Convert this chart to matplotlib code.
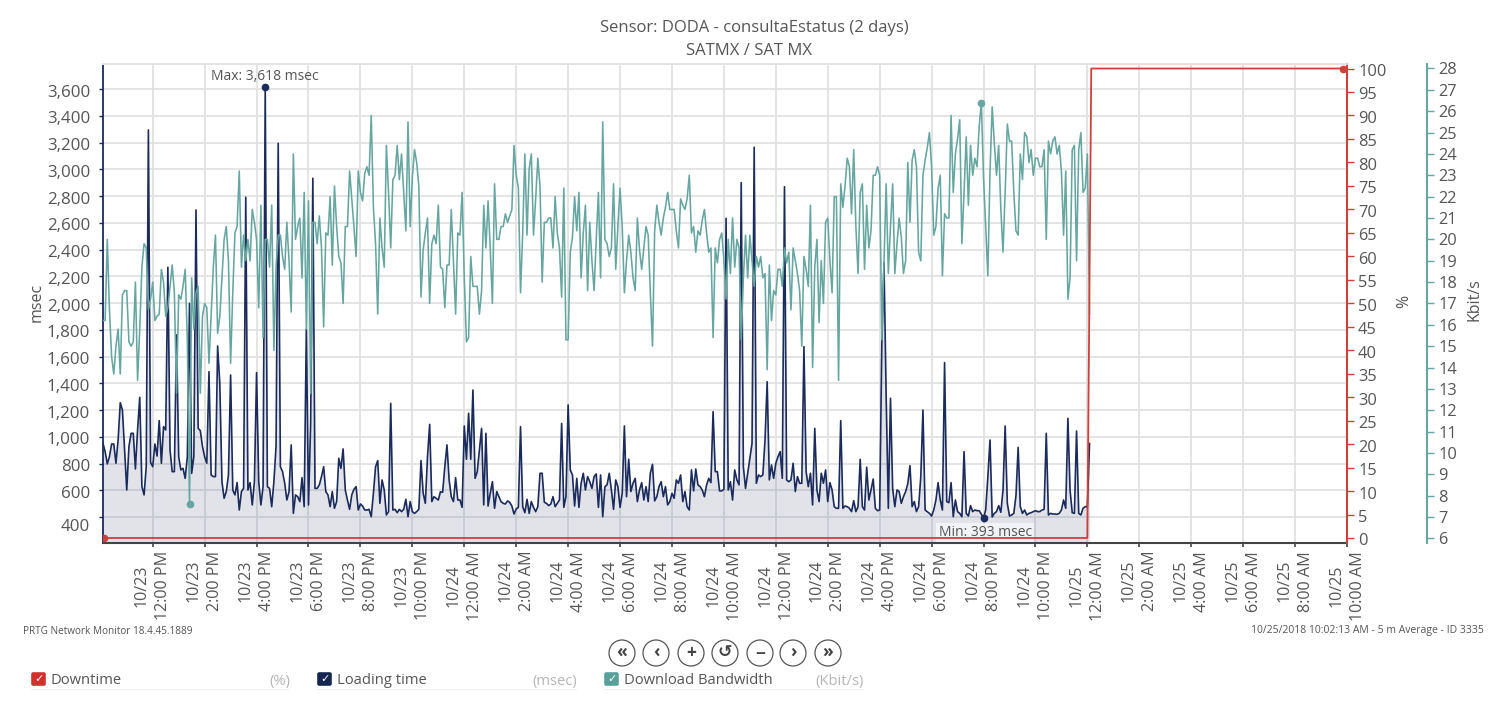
import matplotlib
matplotlib.use('agg')
import matplotlib.pyplot as plt
from matplotlib.patches import Circle, Rectangle, FancyBboxPatch
from matplotlib.transforms import ScaledTranslation
import numpy as np

plt.rcParams['font.family'] = ['Open Sans', 'DejaVu Sans']

TEXT_COLOR = "#555555"
GRID_COLOR = "#e2e2e2"
RED = "#d0403a"
NAVY = "#1a2b5c"
TEAL = "#66a6a1"

# 5 minute averages, 10/23 10:05 AM onwards. one row is about two hours
LOADING_MSEC = [
    951, 889, 797, 851, 946, 946, 802, 976, 1255, 1200, 901, 602, 926, 1026, 1026, 759, 1051, 1295, 627, 565, 776, 3295, 809, 776,
    946, 856, 1121, 802, 1076, 1051, 2268, 901, 739, 739, 1762, 851, 752, 764, 689, 851, 1998, 727, 851, 2697, 1063, 1046, 926, 851,
    802, 1487, 714, 702, 702, 1679, 1400, 664, 540, 590, 714, 1462, 602, 565, 657, 452, 590, 614, 2792, 602, 657, 490, 664, 1480,
    664, 490, 627, 3618, 627, 614, 477, 664, 926, 3195, 776, 739, 652, 527, 590, 939, 427, 565, 552, 515, 694, 477, 1804, 490,
    1100, 2934, 614, 614, 640, 702, 776, 590, 565, 477, 590, 465, 515, 839, 764, 909, 602, 527, 457, 565, 607, 627, 452, 497,
    482, 452, 452, 457, 402, 577, 776, 822, 502, 677, 602, 415, 440, 1250, 452, 457, 432, 457, 440, 457, 532, 402, 515, 440,
    427, 440, 457, 822, 577, 502, 851, 1093, 515, 552, 540, 527, 589, 585, 776, 939, 677, 552, 515, 694, 527, 527, 472, 1081,
    832, 1176, 832, 1350, 689, 739, 901, 1063, 490, 1026, 482, 577, 664, 465, 590, 552, 515, 502, 497, 520, 510, 482, 422, 460,
    472, 1076, 477, 432, 532, 427, 515, 472, 440, 477, 727, 727, 510, 502, 485, 497, 552, 477, 502, 527, 1100, 472, 552, 1238,
    752, 714, 482, 689, 472, 652, 727, 602, 702, 664, 614, 702, 722, 472, 714, 402, 627, 640, 727, 602, 457, 677, 627, 472,
    577, 1081, 552, 832, 590, 652, 689, 515, 602, 657, 527, 627, 515, 727, 794, 520, 552, 627, 664, 552, 627, 490, 515, 577,
    540, 677, 652, 714, 515, 590, 477, 452, 752, 595, 759, 640, 627, 602, 552, 640, 689, 657, 1188, 739, 739, 595, 595, 607,
    2634, 602, 664, 527, 752, 677, 640, 2901, 776, 614, 727, 839, 951, 3166, 652, 714, 702, 714, 976, 1412, 677, 789, 689, 802, 851,
    889, 689, 2871, 677, 664, 677, 802, 590, 702, 652, 652, 1674, 739, 627, 727, 490, 1063, 602, 515, 727, 652, 752, 515, 657,
    602, 477, 465, 465, 1121, 465, 482, 477, 465, 440, 522, 440, 477, 831, 477, 452, 772, 527, 602, 684, 465, 447, 452, 1700,
    2303, 1300, 465, 1288, 614, 477, 602, 590, 502, 552, 590, 650, 784, 477, 515, 440, 477, 700, 1200, 452, 440, 427, 407, 452,
    527, 657, 527, 452, 1555, 515, 507, 657, 402, 527, 440, 427, 402, 889, 427, 407, 485, 440, 452, 447, 447, 420, 393, 452,
    700, 976, 400, 427, 440, 485, 435, 600, 1081, 502, 407, 415, 427, 560, 921, 477, 427, 452, 415, 427, 432, 440, 447, 440,
    440, 452, 457, 1026, 415, 427, 422, 422, 420, 427, 452, 527, 465, 1138, 600, 432, 427, 1043, 427, 415, 465, 477, 477, 950,
]

BANDWIDTH_KBIT = [
    16.2, 16.2, 20.0, 16.7, 14.5, 13.7, 15.0, 15.8, 13.7, 17.4, 17.6, 17.6, 15.2, 15.0, 15.2, 18.0, 13.4, 15.8, 18.7, 19.8, 19.6, 16.7, 17.2, 18.0,
    16.2, 16.4, 16.5, 18.6, 18.0, 16.4, 16.8, 17.8, 18.8, 17.5, 12.8, 17.4, 17.2, 17.8, 18.6, 15.3, 7.6, 18.2, 15.8, 17.5, 17.8, 12.8, 16.4, 17.0,
    16.8, 14.2, 16.4, 18.7, 20.2, 15.6, 16.4, 18.2, 20.0, 20.6, 19.0, 14.2, 17.5, 20.3, 20.6, 23.2, 18.7, 20.2, 19.0, 20.0, 19.0, 21.4, 20.8, 20.0,
    16.8, 21.6, 15.4, 20.0, 20.0, 18.7, 21.6, 14.8, 18.7, 20.2, 20.2, 19.2, 18.6, 20.8, 19.0, 16.6, 24.0, 20.0, 20.6, 21.0, 18.2, 22.2, 15.8, 21.8,
    12.8, 20.8, 20.8, 19.8, 21.1, 19.6, 15.9, 20.3, 20.2, 22.0, 18.8, 22.5, 20.6, 19.2, 18.9, 17.0, 20.6, 20.6, 23.2, 21.9, 20.6, 19.2, 23.2, 22.2,
    21.8, 23.1, 23.4, 23.0, 25.8, 21.5, 19.8, 16.5, 21.0, 19.6, 18.7, 24.4, 22.2, 19.6, 22.8, 23.0, 24.4, 22.8, 24.0, 22.2, 20.4, 25.5, 20.6, 22.9,
    24.2, 23.6, 22.5, 17.3, 19.5, 20.3, 21.0, 17.0, 19.8, 20.2, 19.8, 21.6, 18.7, 18.6, 16.8, 18.8, 18.8, 21.4, 19.0, 16.5, 20.3, 20.2, 22.2, 18.2,
    15.2, 15.4, 19.2, 17.8, 17.8, 17.8, 16.5, 17.6, 21.6, 19.6, 21.8, 19.6, 17.0, 22.6, 20.0, 20.0, 20.6, 20.6, 21.2, 20.8, 21.1, 21.4, 24.4, 23.0,
    22.4, 17.5, 20.3, 24.0, 20.2, 23.3, 24.0, 20.2, 21.9, 23.8, 22.5, 18.0, 20.8, 20.8, 21.0, 21.0, 19.6, 22.0, 20.3, 19.6, 17.3, 22.4, 15.3, 15.3,
    19.4, 20.1, 22.0, 20.4, 22.2, 18.2, 20.3, 21.6, 17.6, 20.8, 19.0, 17.6, 20.0, 22.2, 18.2, 25.5, 20.0, 19.8, 19.2, 19.6, 22.6, 18.6, 20.6, 22.4,
    20.6, 17.5, 19.0, 20.2, 19.4, 18.2, 17.6, 21.0, 19.5, 18.6, 19.6, 20.6, 20.2, 17.5, 15.0, 20.4, 21.6, 20.8, 20.2, 21.0, 21.5, 22.2, 21.4, 21.4,
    21.4, 20.4, 19.6, 21.9, 21.6, 21.4, 21.9, 23.0, 20.3, 20.6, 19.4, 20.4, 20.2, 20.9, 21.4, 20.3, 19.4, 19.6, 15.4, 19.6, 18.9, 20.0, 20.3, 19.0,
    17.2, 20.0, 18.4, 21.0, 18.7, 20.0, 19.6, 15.3, 18.2, 20.2, 18.2, 20.2, 19.0, 17.8, 19.2, 18.7, 19.2, 18.2, 18.4, 13.9, 18.8, 16.2, 17.6, 17.4, 18.6,
    18.6, 17.8, 19.6, 18.9, 19.4, 16.7, 19.6, 19.0, 18.4, 17.6, 15.0, 19.2, 18.6, 17.8, 21.6, 14.0, 18.7, 20.0, 16.1, 19.0, 17.0, 20.8, 21.0, 19.0,
    17.5, 22.0, 22.0, 13.4, 22.6, 21.5, 22.5, 23.8, 23.4, 21.2, 24.2, 20.6, 18.4, 22.2, 22.6, 18.6, 21.6, 19.6, 20.4, 23.0, 23.0, 23.4, 23.0, 15.3,
    19.0, 22.6, 18.4, 20.6, 22.6, 18.4, 19.8, 21.0, 20.1, 18.4, 19.0, 23.6, 20.8, 23.7, 24.2, 23.4, 19.4, 19.0, 23.0, 23.7, 24.3, 25.0, 23.4,
    20.2, 20.6, 22.4, 23.0, 18.3, 21.2, 21.0, 21.0, 25.8, 22.2, 24.0, 24.7, 25.6, 19.8, 22.2, 24.8, 21.6, 24.4, 23.0, 23.8, 23.4, 25.3, 26.4, 22.9,
    20.6, 18.3, 23.2, 26.2, 24.5, 23.0, 24.4, 21.4, 19.4, 22.2, 25.4, 24.6, 24.6, 22.2, 20.4, 20.2, 24.0, 22.8, 25.0, 24.8, 23.6, 24.2, 23.0, 23.8,
    23.8, 23.4, 23.4, 24.2, 20.0, 24.6, 24.0, 24.6, 24.8, 24.0, 24.4, 23.2, 20.2, 23.2, 17.2, 18.2, 24.2, 24.4, 19.0, 24.2, 25.0, 22.2, 22.4, 24.0, 16.5,
]

DOWNTIME_HOURS = [0.13, 38.0, 38.15, 47.85]
DOWNTIME_PCT = [0, 0, 100, 100]

TICK_HOURS = list(range(2, 49, 2))
TICK_LABELS = ["10/23\n12:00 PM", "10/23\n2:00 PM", "10/23\n4:00 PM", "10/23\n6:00 PM", "10/23\n8:00 PM", "10/23\n10:00 PM",
               "10/24\n12:00 AM", "10/24\n2:00 AM", "10/24\n4:00 AM", "10/24\n6:00 AM", "10/24\n8:00 AM", "10/24\n10:00 AM",
               "10/24\n12:00 PM", "10/24\n2:00 PM", "10/24\n4:00 PM", "10/24\n6:00 PM", "10/24\n8:00 PM", "10/24\n10:00 PM",
               "10/25\n12:00 AM", "10/25\n2:00 AM", "10/25\n4:00 AM", "10/25\n6:00 AM", "10/25\n8:00 AM", "10/25\n10:00 AM"]

MSEC_TICKS = list(range(400, 3601, 200))
PCT_TICKS = list(range(0, 101, 5))
KBIT_TICKS = list(range(6, 29))

fig = plt.figure(figsize=(15, 7.08), dpi=100)
ax = fig.add_axes([102.5 / 1500, 1 - 542.5 / 708, 1244.5 / 1500, 478.5 / 708])
ax_kbit = ax.twinx()
ax_pct = ax.twinx()

hours = (np.arange(len(LOADING_MSEC)) + 1) * 5 / 60.0
hours_kbit = (np.arange(len(BANDWIDTH_KBIT)) + 1) * 5 / 60.0

ax.fill_between(hours, LOADING_MSEC, 0, color=NAVY, alpha=0.13, linewidth=0)
ax.plot(hours, LOADING_MSEC, color=NAVY, linewidth=1.2)
ax_kbit.plot(hours_kbit, BANDWIDTH_KBIT, color=TEAL, linewidth=1.15)
ax_pct.plot(DOWNTIME_HOURS, DOWNTIME_PCT, color=RED, linewidth=1.3)

# min/max dots
i_max = int(np.argmax(LOADING_MSEC))
i_min = int(np.argmin(LOADING_MSEC))
ax.plot(hours[[i_max, i_min]], np.array(LOADING_MSEC)[[i_max, i_min]], "o", color=NAVY, markersize=4.5)
i_max_k = int(np.argmax(BANDWIDTH_KBIT))
i_min_k = int(np.argmin(BANDWIDTH_KBIT))
ax_kbit.plot(hours_kbit[[i_max_k, i_min_k]], np.array(BANDWIDTH_KBIT)[[i_max_k, i_min_k]], "o", color=TEAL, markersize=4.5)
ax_pct.plot([DOWNTIME_HOURS[0], DOWNTIME_HOURS[-1]], [DOWNTIME_PCT[0], DOWNTIME_PCT[-1]], "o", color=RED, markersize=4.5)

ax.text(hours[i_max], 3695, "Max: 3,618 msec", ha="center", va="center", fontsize=10, color=TEXT_COLOR)
ax.text(hours[i_min] + 0.06, 285, "Min: 393 msec", ha="center", va="center", fontsize=10, color=TEXT_COLOR,
        bbox=dict(facecolor="white", alpha=0.6, edgecolor="none", pad=1.5))

ax.set_xlim(0.0655, 48)
ax.set_ylim(209, 3789)
ax_pct.set_ylim(-0.96, 100.96)
ax_kbit.set_ylim(5.81, 28.21)

ax.set_yticks(MSEC_TICKS)
ax.set_yticklabels([f"{v:,}" for v in MSEC_TICKS])
ax.set_xticks(TICK_HOURS)
ax.set_xticklabels(TICK_LABELS, rotation=90, ha="center", va="top", linespacing=1.45, multialignment="center")
ax_pct.set_yticks(PCT_TICKS)
ax_kbit.set_yticks(KBIT_TICKS)

ax.grid(True, color=GRID_COLOR, linewidth=1.3)
ax.set_axisbelow(True)
ax.tick_params(axis="y", length=3, width=1, color=NAVY, pad=6, labelsize=12.2, labelcolor=TEXT_COLOR)
ax.tick_params(axis="x", length=3, width=1.2, color="#444444", pad=3, labelsize=11.6, labelcolor=TEXT_COLOR)
ax_pct.tick_params(axis="y", length=5, width=1, color=RED, pad=3, labelsize=11.8, labelcolor=TEXT_COLOR)
ax_kbit.tick_params(axis="y", length=5, width=1, color=TEAL, pad=3, labelsize=11.8, labelcolor=TEXT_COLOR)

# tick labels sit a bit under their grid lines, the 400 label even more
for a in [ax, ax_pct, ax_kbit]:
    for lab in a.get_yticklabels():
        lab.set_transform(lab.get_transform() + ScaledTranslation(0, -1.5 / 100.0, fig.dpi_scale_trans))
label_400 = ax.get_yticklabels()[0]
label_400.set_transform(label_400.get_transform() + ScaledTranslation(0, -6.5 / 100.0, fig.dpi_scale_trans))

for a in [ax, ax_pct, ax_kbit]:
    a.spines["top"].set_color(GRID_COLOR)
    a.spines["top"].set_linewidth(1.3)
    a.spines["left"].set_visible(False)
    a.spines["right"].set_visible(False)
    a.spines["bottom"].set_visible(False)
    a.patch.set_visible(False)
ax.spines["left"].set_visible(True)
ax.spines["left"].set_color(NAVY)
ax.spines["left"].set_linewidth(1.3)
ax.spines["bottom"].set_visible(True)
ax.spines["bottom"].set_color("#444444")
ax.spines["bottom"].set_linewidth(1.5)
ax_pct.spines["right"].set_visible(True)
ax_pct.spines["right"].set_color(RED)
ax_pct.spines["right"].set_linewidth(1.5)
ax_kbit.spines["right"].set_visible(True)
ax_kbit.spines["right"].set_color(TEAL)
ax_kbit.spines["right"].set_linewidth(1.5)
ax_kbit.spines["right"].set_position(("outward", 57.6))

ax.set_zorder(1)
ax_kbit.set_zorder(2)
ax_pct.set_zorder(3)

# everything outside the plot is placed in image pixels
ui = fig.add_axes([0, 0, 1, 1], zorder=5)
ui.set_xlim(0, 1500)
ui.set_ylim(708, 0)
ui.axis("off")
ui.patch.set_visible(False)

ui.text(754, 28, "Sensor: DODA - consultaEstatus (2 days)", ha="center", va="center", fontsize=11.95, color=TEXT_COLOR)
ui.text(749.5, 51, "SATMX / SAT MX", ha="center", va="center", fontsize=11.95, color=TEXT_COLOR)
ui.text(37, 302.5, "msec", rotation=90, ha="center", va="center", fontsize=11.5, color=TEXT_COLOR)
ui.text(1404, 301, "%", rotation=90, ha="center", va="center", fontsize=11.5, color=TEXT_COLOR)
ui.text(1474, 300, "Kbit/s", rotation=90, ha="center", va="center", fontsize=11.5, color=TEXT_COLOR)

ui.text(23, 631.5, "PRTG Network Monitor 18.4.45.1889", ha="left", va="center", fontsize=7.2, color=TEXT_COLOR)
ui.text(1484, 630.5, "10/25/2018 10:02:13 AM - 5 m Average - ID 3335", ha="right", va="center", fontsize=7.45, color=TEXT_COLOR)

button_x = [622, 656, 691, 725, 760, 793, 828]
button_labels = ["\u00ab", "\u2039", "+", "\u21ba", "\u2212", "\u203a", "\u00bb"]
button_dy = [0, 0, 1.5, 0.5, 1.5, 0, 0]
for bx, blabel, dy in zip(button_x, button_labels, button_dy):
    ui.add_patch(Circle((bx, 653), 13, facecolor="white", edgecolor="#555555", linewidth=0.9))
    ui.text(bx, 652 + dy, blabel, ha="center", va="center", fontsize=12.5, fontweight="bold", color="#444444",
            family=["DejaVu Sans"] if blabel == "\u21ba" else ["Open Sans"])

legend_items = [(31, "Downtime", "(%)", 290, "#d32f2b"),
                (317, "Loading time", "(msec)", 577, "#14254f"),
                (604, "Download Bandwidth", "(Kbit/s)", 864, "#5aa09a")]
for lx, name, unit, unit_right, color in legend_items:
    ui.add_patch(FancyBboxPatch((lx + 1, 673), 13, 12, boxstyle="round,pad=0.8,rounding_size=2",
                                facecolor=color, edgecolor="none"))
    ui.text(lx + 8, 679, "\u2713", ha="center", va="center", fontsize=8, color="white", family="DejaVu Sans")
    ui.text(lx + 20, 681, name, ha="left", va="center", fontsize=10.6, color=TEXT_COLOR)
    ui.text(unit_right, 681, unit, ha="right", va="center", fontsize=10.6, color="#b5b5b5")
    ui.add_patch(Rectangle((lx, 688.5), unit_right - lx, 1, facecolor="#f0f0f0", edgecolor="none"))

fig.savefig("out.png", dpi=100)
